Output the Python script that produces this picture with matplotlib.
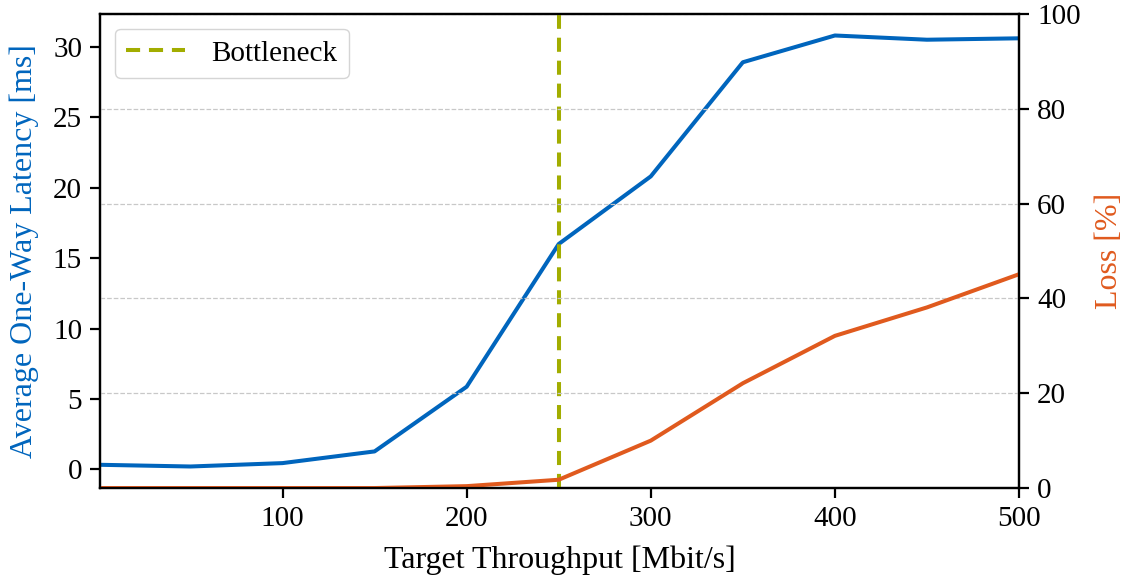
import matplotlib
matplotlib.use("Agg")
import matplotlib.pyplot as plt

# target throughput [Mbit/s]
throughput = [1, 50, 100, 150, 200, 250, 300, 350, 400, 450, 500]
# average one-way latency [ms]
latency = [0.33, 0.21, 0.45, 1.28, 5.87, 16.0, 20.8, 28.9, 30.8, 30.5, 30.6]
# loss [%]
loss = [0.0, 0.0, 0.0, 0.0, 0.4, 1.75, 10.0, 22.1, 32.1, 38.1, 45.1]
bottleneck = 250

BLUE = "#0065bd"
ORANGE = "#e05a1e"
OLIVE = "#a2ad00"

plt.rcParams["font.family"] = ["Liberation Serif", "DejaVu Serif"]
plt.rcParams["font.size"] = 21

fig, ax = plt.subplots(figsize=(11.26, 5.81), dpi=100)
fig.subplots_adjust(left=0.089, right=0.905, top=0.976, bottom=0.160)

ax.plot(throughput, latency, color=BLUE, lw=2.9)
ax.axvline(bottleneck, color=OLIVE, lw=2.9, ls=(0, (3.5, 2.2)), label="Bottleneck", zorder=5)
ax.set_xlim(1, 500)
ax.set_xticks([100, 200, 300, 400, 500])
ax.set_xlabel("Target Throughput [Mbit/s]", fontsize=23, labelpad=10)
ax.set_ylabel("Average One-Way Latency [ms]", color=BLUE, fontsize=23, labelpad=10)
ax.legend(loc="upper left", fancybox=True, framealpha=1, edgecolor="#d5d5d5",
          handlelength=2.0, borderpad=0.4, handletextpad=0.9, fontsize=21)

ax2 = ax.twinx()
ax2.plot(throughput, loss, color=ORANGE, lw=2.9)
ax2.set_ylim(0, 100)
ax2.set_ylabel("Loss [%]", color=ORANGE, fontsize=23, labelpad=10)
ax2.grid(axis="y", ls="--", color="#c8c8c8", lw=0.9)
ax2.set_axisbelow(True)

for a in (ax, ax2):
    a.tick_params(width=1.6, length=7, pad=6)
    for s in a.spines.values():
        s.set_linewidth(1.6)

fig.savefig("out.png", dpi=100)
